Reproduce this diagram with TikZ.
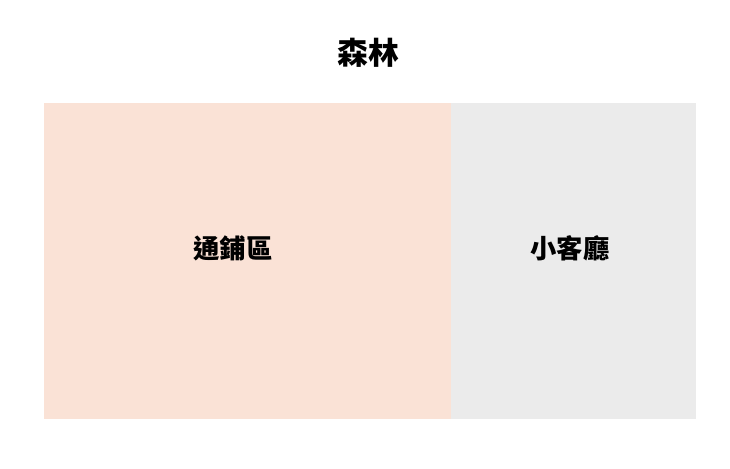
\documentclass[tikz,border=0pt]{standalone}
\usepackage{fontspec}
\usetikzlibrary{positioning}
\newfontfamily\cjk{Noto Sans CJK TC}
\definecolor{peach}{HTML}{FAE2D6}
\definecolor{lightgray}{HTML}{EBEBEB}
\tikzset{
  zone/.style={rectangle, anchor=north west, inner sep=0pt, outer sep=0pt, draw=none},
  zonelabel/.style={font=\cjk\fontsize{15}{18}\selectfont\bfseries, text=black},
  titlelabel/.style={font=\cjk\fontsize{17.5}{20}\selectfont\bfseries, text=black}
}
\begin{document}
\begin{tikzpicture}[x=0.02cm, y=-0.02cm]
        \useasboundingbox (0,0) rectangle (730,468);
        \node (title) [titlelabel] at (368,53) {森林};
        \node (dorm) [zone, fill=peach, minimum width=8.14cm, minimum height=6.32cm] at (44,103) {};
        \node (lounge) [zone, fill=lightgray, minimum width=4.9cm, minimum height=6.32cm, right=0pt of dorm.north east, anchor=north west] {};
        \node (dormlabel) [zonelabel] at (233,248) {通鋪區};
        \node (loungelabel) [zonelabel] at (570,248) {小客廳};
    \end{tikzpicture}
\end{document}
